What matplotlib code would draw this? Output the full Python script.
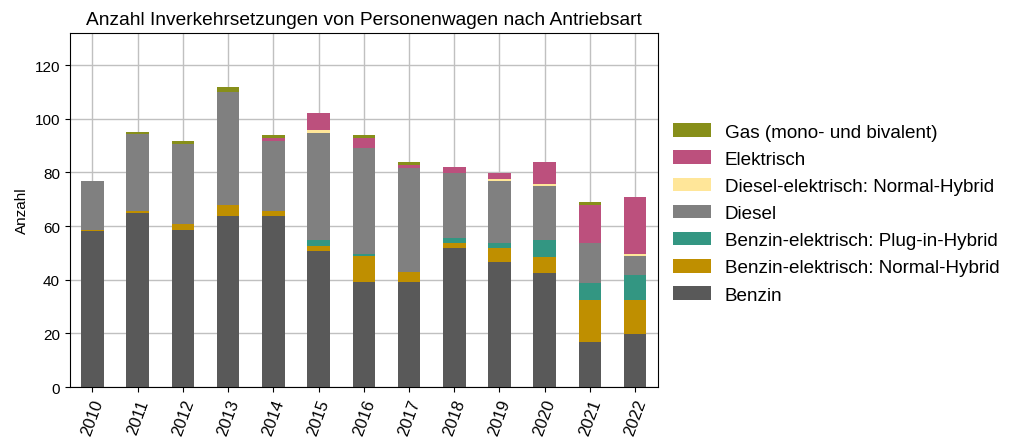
import numpy as np
import matplotlib
matplotlib.use("Agg")
import matplotlib.pyplot as plt

plt.rcParams["font.family"] = ["Liberation Sans", "DejaVu Sans"]

years = [str(y) for y in range(2010, 2023)]

benzin = [58.0, 65.0, 58.6, 63.9, 63.9, 50.8, 39.0, 39.0, 51.9, 46.7, 42.5, 16.8, 19.8]
benzin_nh = [0.6, 0.7, 2.3, 4.1, 1.8, 1.9, 9.9, 4.0, 1.9, 5.2, 6.1, 15.6, 12.6]
benzin_phev = [0.0, 0.0, 0.0, 0.0, 0.0, 2.2, 0.8, 0.0, 1.9, 1.9, 6.2, 6.4, 9.3]
diesel = [18.3, 28.5, 29.8, 41.8, 26.1, 39.9, 39.2, 38.7, 24.2, 23.1, 20.1, 14.9, 7.1]
diesel_nh = [0.0, 0.0, 0.0, 0.0, 0.0, 1.1, 0.0, 0.0, 0.0, 0.7, 0.8, 0.0, 0.8]
elektrisch = [0.0, 0.0, 0.0, 0.0, 1.1, 6.3, 4.0, 1.2, 2.2, 2.3, 8.2, 14.2, 21.2]
gas = [0.0, 1.0, 1.1, 2.1, 1.1, 0.0, 1.1, 1.1, 0.0, 0.0, 0.0, 1.0, 0.0]

series = [
    ("Benzin", benzin, "#595959"),
    ("Benzin-elektrisch: Normal-Hybrid", benzin_nh, "#bf8f00"),
    ("Benzin-elektrisch: Plug-in-Hybrid", benzin_phev, "#339682"),
    ("Diesel", diesel, "#808080"),
    ("Diesel-elektrisch: Normal-Hybrid", diesel_nh, "#ffe699"),
    ("Elektrisch", elektrisch, "#bc507d"),
    ("Gas (mono- und bivalent)", gas, "#878f1a"),
]

fig = plt.figure(figsize=(10.12, 4.39), dpi=100)
ax = fig.add_axes([0.069, 0.116, 0.581, 0.807])

x = np.arange(len(years))
bottom = np.zeros(len(years))
for name, vals, color in series:
    ax.bar(x, vals, 0.5, bottom=bottom, color=color, label=name, zorder=2)
    bottom += np.array(vals)

ax.set_xlim(-0.5, len(years) - 0.5)
ax.set_ylim(0, 132)
ax.set_yticks(range(0, 121, 20))
ax.set_xticks(x)
ax.set_xticklabels(years, rotation=70, fontsize=12)
ax.tick_params(axis="y", labelsize=11)
ax.grid(True, color="#c0c0c0", linewidth=1, zorder=0)
ax.set_axisbelow(True)
ax.set_ylabel("Anzahl", fontsize=11)
ax.set_title("Anzahl Inverkehrsetzungen von Personenwagen nach Antriebsart", fontsize=13.8)

handles, labels = ax.get_legend_handles_labels()
ax.legend(handles[::-1], labels[::-1], loc="center left", bbox_to_anchor=(0.997, 0.49),
          frameon=False, fontsize=13.6, handlelength=2.0, handleheight=0.72,
          handletextpad=0.75, labelspacing=0.52)

fig.savefig("out.png", dpi=100)
